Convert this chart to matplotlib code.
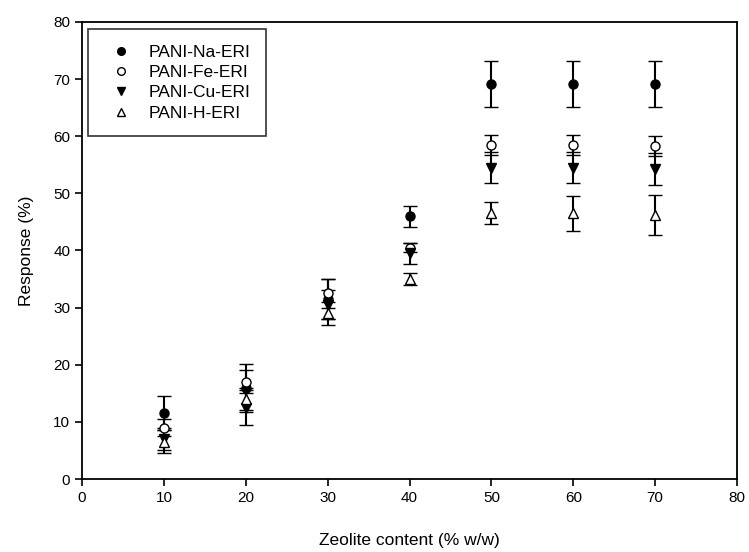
import numpy as np
import matplotlib
matplotlib.use("Agg")
import matplotlib.pyplot as plt
from matplotlib.lines import Line2D

plt.rcParams["font.family"] = ["Liberation Sans", "DejaVu Sans"]

# data
zeolite = [10, 20, 30, 40, 50, 60, 70]

na_resp = [11.5, 16.0, 31.5, 46.0, 69.2, 69.2, 69.2]
na_err = [3.0, 4.2, 3.5, 1.8, 4.0, 4.0, 4.0]

fe_resp = [9.0, 17.0, 32.5, 40.5, 58.5, 58.5, 58.3]
fe_err = [1.5, 2.0, 2.5, 0.8, 1.8, 1.8, 1.8]

cu_resp = [7.0, 12.5, 30.5, 39.5, 54.5, 54.5, 54.3]
cu_err = [2.0, 3.0, 2.5, 1.8, 2.7, 2.7, 2.8]

h_resp = [6.5, 14.0, 29.0, 35.0, 46.6, 46.5, 46.2]
h_err = [2.0, 2.0, 2.0, 1.0, 1.9, 3.0, 3.5]

series = [
    ("PANI-Na-ERI", na_resp, na_err, "o", "black"),
    ("PANI-Fe-ERI", fe_resp, fe_err, "o", "white"),
    ("PANI-Cu-ERI", cu_resp, cu_err, "v", "black"),
    ("PANI-H-ERI", h_resp, h_err, "^", "white"),
]

fig = plt.figure(figsize=(7.49, 5.52), dpi=100)
ax = fig.add_axes([0.1095, 0.1322, 0.8745, 0.828])

handles = []
for label, y, e, mk, fc in series:
    ax.errorbar(zeolite, y, yerr=e, fmt=mk, mfc=fc, mec="black", ms=6.5, mew=1.0,
                ecolor="black", elinewidth=1.5, capsize=5, capthick=1.5)
    handles.append(Line2D([], [], ls="none", marker=mk, mfc=fc, mec="black",
                          ms=5.5, mew=1.0, label=label))

ax.set_xlim(0, 80)
ax.set_ylim(0, 80)
ax.set_xticks(np.arange(0, 81, 10))
ax.set_yticks(np.arange(0, 81, 10))
ax.tick_params(direction="out", length=5, width=1.2, labelsize=11, colors="black")
for s in ax.spines.values():
    s.set_linewidth(1.3)
ax.set_xlabel("Zeolite content (% w/w)", fontsize=12.5, labelpad=20)
ax.set_ylabel("Response (%)", fontsize=12.5, labelpad=14)

leg = ax.legend(handles=handles, loc="upper left", bbox_to_anchor=(0.009, 0.985),
                fontsize=12.5, frameon=True, fancybox=False, edgecolor="black",
                handlelength=2.0, handletextpad=0.6, borderpad=0.9, labelspacing=0.3,
                borderaxespad=0.0)
leg.get_frame().set_linewidth(1.2)

fig.savefig("out.png", dpi=100, facecolor="white")
